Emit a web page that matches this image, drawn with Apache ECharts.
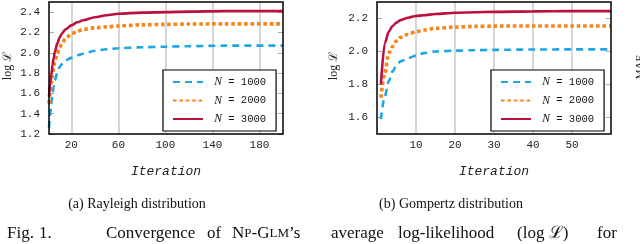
<!DOCTYPE html>
<html><head><meta charset="utf-8">
<script src="https://cdn.jsdelivr.net/npm/echarts@6/dist/echarts.min.js"></script>
<style>html,body{margin:0;padding:0;background:#fff}#c{width:640px;height:244px}</style>
</head><body><div id="c"></div>
<script>
// ---- data: (a) Rayleigh ----
const iterA = [1,2,3,4,5,6,8,10,12,15,20,25,30,40,50,60,80,100,120,150,200];
const rayleigh1000 = [1.26,1.38,1.50,1.60,1.67,1.73,1.80,1.86,1.89,1.925,1.95,1.975,1.99,2.02,2.035,2.045,2.055,2.06,2.065,2.07,2.07];
const rayleigh2000 = [1.50,1.60,1.70,1.78,1.86,1.91,1.99,2.05,2.09,2.14,2.185,2.21,2.23,2.245,2.255,2.265,2.275,2.28,2.283,2.285,2.285];
const rayleigh3000 = [1.57,1.70,1.79,1.88,1.95,2.01,2.09,2.15,2.19,2.23,2.27,2.30,2.32,2.35,2.37,2.385,2.395,2.40,2.405,2.41,2.41];
// ---- data: (b) Gompertz ----
const iterB = [1,2,3,4,5,6,8,10,12,15,20,25,30,40,50,60];
const gompertz1000 = [1.59,1.73,1.82,1.88,1.915,1.94,1.96,1.975,1.99,2.0,2.005,2.008,2.01,2.012,2.013,2.013];
const gompertz2000 = [1.72,1.87,1.99,2.03,2.065,2.085,2.105,2.12,2.13,2.14,2.148,2.152,2.154,2.155,2.155,2.155];
const gompertz3000 = [1.80,2.05,2.12,2.155,2.175,2.19,2.205,2.215,2.22,2.227,2.235,2.238,2.24,2.243,2.245,2.245];
// ---- ticks & labels ----
const seriesNames = ['N = 1000','N = 2000','N = 3000'];
const xTicksA = [20,60,100,140,180];
const xTicksB = [10,20,30,40,50];
const yTicksA = [1.2,1.4,1.6,1.8,2.0,2.2,2.4];
const yTicksB = [1.6,1.8,2.0,2.2];
const xLabel = 'Iteration';
const yLabel = 'log ℒ';
const subCaptions = ['(a) Rayleigh distribution','(b) Gompertz distribution'];
const figCaptionWords = ['Fig.','1.','Convergence','of','{b|N}{s|P}{b|-G}{s|LM}{b|’s}','average','log-likelihood','(log ℒ)','for'];
const figCaptionX = [7,39,106,207,232,331,398,517,597];
const cutLabel = 'MAE';

const colors = ['#1ea6e2','#f7861a','#bb0f3e'];
const lineTypes = [[7,5],[3.6,2.8],'solid'];
const mono = '"Liberation Mono","DejaVu Sans Mono",monospace';
const serif = '"Liberation Serif","DejaVu Serif",serif';

function zip(xs, ys){ return xs.map((x,i)=>[x, ys[i]]); }

const grids = [
  {left:49, top:2, width:234, height:132},
  {left:377, top:2, width:234, height:132}
];
const yRanges = [[1.2,2.5],[1.5,2.3]];
const xRanges = [[1,200],[0,60]];
const xTicks = [xTicksA, xTicksB];
const yTicks = [yTicksA, yTicksB];

const xAxes = [], yAxes = [];
grids.forEach((g,i)=>{
  xAxes.push({
    type:'value', gridIndex:i, min:xRanges[i][0], max:xRanges[i][1],
    axisLine:{show:false},
    axisTick:{show:false, customValues:xTicks[i]},
    axisLabel:{fontFamily:mono, fontSize:11, color:'#222', margin:6, customValues:xTicks[i]},
    splitLine:{show:true, lineStyle:{color:'#c9c9c9', width:1.5}}
  });
  const base = {type:'value', gridIndex:i, min:yRanges[i][0], max:yRanges[i][1]};
  yAxes.push(Object.assign({}, base, {
    position:'left',
    axisLine:{show:false},
    axisTick:{show:true, inside:true, length:5, customValues:yTicks[i], lineStyle:{color:'#aaa', width:1}},
    axisLabel:{fontFamily:mono, fontSize:11, color:'#222', margin:9, customValues:yTicks[i],
      formatter:v=>v.toFixed(1)},
    splitLine:{show:false}
  }));
  yAxes.push(Object.assign({}, base, {
    position:'right',
    axisLine:{show:false},
    axisTick:{show:true, inside:true, length:5, customValues:yTicks[i], lineStyle:{color:'#aaa', width:1}},
    axisLabel:{show:false},
    splitLine:{show:false}
  }));
});

const dataSets = [
  [zip(iterA, rayleigh1000), zip(iterA, rayleigh2000), zip(iterA, rayleigh3000)],
  [zip(iterB, gompertz1000), zip(iterB, gompertz2000), zip(iterB, gompertz3000)]
];
const series = [];
dataSets.forEach((ds,g)=>{
  ds.forEach((d,k)=>{
    series.push({
      type:'line', name:seriesNames[k], xAxisIndex:g, yAxisIndex:g*2, data:d,
      showSymbol:false, symbol:'none', smooth:0.3, smoothMonotone:'x',
      lineStyle:{color:colors[k], width:k===1?3.6:2.6, type:lineTypes[k], cap:'butt'},
      itemStyle:{color:colors[k]},
      silent:true, animation:false, z:3
    });
  });
});

const legendBase = {
  orient:'vertical', data:seriesNames, itemWidth:30, itemHeight:10, itemGap:6.5,
  borderColor:'#000', borderWidth:1.2, backgroundColor:'#fff', padding:[6,10,6,9],
  selectedMode:false,
  itemStyle:{color:'rgba(0,0,0,0)', borderColor:'rgba(0,0,0,0)', borderWidth:0, opacity:0},
  formatter:n=>' {n|N}' + n.slice(1),
  textStyle:{fontFamily:mono, fontSize:10.5, color:'#111',
    rich:{n:{fontFamily:serif, fontStyle:'italic', fontSize:11.5, color:'#111'}}}
};
const legends = [
  Object.assign({}, legendBase, {left:163, top:70}),
  Object.assign({}, legendBase, {left:491, top:70})
];

const graphics = [];
[0,1].forEach(i=>{
  graphics.push({type:'text', x:[166,494][i], y:172, style:{text:xLabel, font:'italic 13px '+mono, fill:'#222', textAlign:'center', textVerticalAlign:'middle'}});
  graphics.push({type:'text', x:[8,334][i], y:66, rotation:Math.PI/2, style:{text:yLabel, font:'12px '+serif, fill:'#222', textAlign:'center', textVerticalAlign:'middle'}});
});
graphics.push({type:'text', x:137, y:204, style:{text:subCaptions[0], font:'14px '+serif, fill:'#111', textAlign:'center', textVerticalAlign:'middle'}});
graphics.push({type:'text', x:451, y:204, style:{text:subCaptions[1], font:'14px '+serif, fill:'#111', textAlign:'center', textVerticalAlign:'middle'}});
figCaptionWords.forEach((w,i)=>{
  graphics.push({type:'text', x:figCaptionX[i], y:234, style:{text:w, fontFamily:serif, fontSize:17, fill:'#111', textVerticalAlign:'middle',
    rich:{b:{fontFamily:serif, fontSize:17, fill:'#111'}, s:{fontFamily:serif, fontSize:13, fill:'#111'}}}});
});
graphics.push({type:'text', x:640, y:67, rotation:Math.PI/2, style:{text:cutLabel, font:'11px '+serif, fill:'#222', textAlign:'center', textVerticalAlign:'middle'}});

const chart = echarts.init(document.getElementById('c'), null, {renderer:'canvas'});
chart.setOption({
  animation:false,
  grid: grids.map(g=>Object.assign({show:true, borderColor:'#000', borderWidth:1.5, backgroundColor:'transparent', z:5}, g)),
  xAxis:xAxes, yAxis:yAxes, series:series, legend:legends, graphic:graphics
});
</script></body></html>
